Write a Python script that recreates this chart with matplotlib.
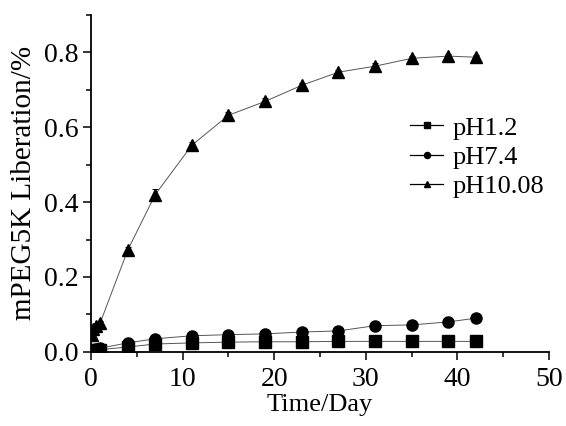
import matplotlib
matplotlib.use("Agg")
import matplotlib.pyplot as plt
from matplotlib.ticker import MultipleLocator

plt.rcParams['font.family'] = ['Liberation Serif', 'DejaVu Serif']
plt.rcParams['mathtext.fontset'] = 'stix'

days = [0.1, 0.25, 0.5, 1, 4, 7, 11, 15, 19, 23, 27, 31, 35, 39, 42]
ph12 = [0.003, 0.004, 0.005, 0.006, 0.013, 0.021, 0.024, 0.026, 0.027, 0.027, 0.028, 0.028, 0.028, 0.028, 0.028]
ph74 = [0.004, 0.006, 0.008, 0.010, 0.024, 0.035, 0.043, 0.046, 0.048, 0.053, 0.056, 0.070, 0.072, 0.080, 0.090]
ph1008 = [0.045, 0.060, 0.068, 0.078, 0.272, 0.420, 0.552, 0.632, 0.669, 0.712, 0.747, 0.763, 0.784, 0.790, 0.787]
err12 = [0.002, 0.002, 0.002, 0.002, 0.003, 0.003, 0.003, 0.003, 0.003, 0.003, 0.003, 0.003, 0.003, 0.003, 0.003]
err74 = [0.002, 0.002, 0.002, 0.002, 0.004, 0.004, 0.004, 0.004, 0.004, 0.004, 0.004, 0.010, 0.004, 0.004, 0.004]
err1008 = [0.005, 0.005, 0.005, 0.005, 0.008, 0.015, 0.008, 0.008, 0.008, 0.006, 0.006, 0.008, 0.006, 0.006, 0.006]
labels = ['pH1.2', 'pH7.4', 'pH10.08']

fig = plt.figure(figsize=(5.66, 4.26), dpi=100)
ax = fig.add_axes([0.161, 0.174, 0.809, 0.791])

series = [(ph12, err12, 's'), (ph74, err74, 'o'), (ph1008, err1008, '^')]
handles = []
for (vals, err, mk), lab in zip(series, labels):
    ax.errorbar(days, vals, yerr=err, fmt='none', ecolor='black', elinewidth=0.7, capsize=2, capthick=0.7)
    ln, = ax.plot(days, vals, color='#555555', lw=0.7, marker=mk, markersize=8,
                  markerfacecolor='black', markeredgecolor='black', label=lab)
    handles.append(ln)

ax.set_xlim(0, 50)
ax.set_ylim(0, 0.9)
ax.xaxis.set_major_locator(MultipleLocator(10))
ax.xaxis.set_minor_locator(MultipleLocator(5))
ax.yaxis.set_minor_locator(MultipleLocator(0.1))
ax.set_yticks([0.0, 0.2, 0.4, 0.6, 0.8])
ax.set_yticklabels(['0.0', '0.2', '0.4', '0.6', '0.8'])
ax.spines['top'].set_visible(False)
ax.spines['right'].set_visible(False)
for s in ['left', 'bottom']:
    ax.spines[s].set_linewidth(1.3)
ax.tick_params(which='major', direction='out', length=6, width=1.1, labelsize=20, pad=3)
ax.tick_params(axis='x', which='major', pad=5)
ax.tick_params(which='minor', direction='out', length=3.5, width=1.1)

ax.set_xlabel('Time/Day', fontsize=19, labelpad=1)
ax.set_ylabel('mPEG5K Liberation/%', fontsize=21, labelpad=5)

leg = ax.legend(handles=handles, loc='upper left', bbox_to_anchor=(0.645, 0.77), frameon=False,
                fontsize=19, markerscale=0.55, handlelength=1.25, handletextpad=0.35, labelspacing=0.22)
for l in leg.get_lines():
    l.set_color('black')
    l.set_linewidth(0.9)

fig.savefig('out.png', dpi=100)
